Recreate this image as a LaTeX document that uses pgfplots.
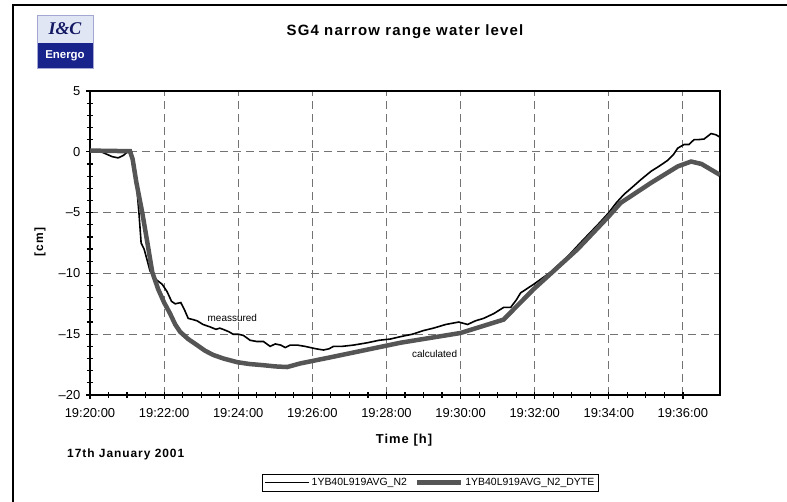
\documentclass[border=0pt]{standalone}
\usepackage{fontspec}
\setmainfont{Liberation Sans}
\newfontfamily\spaced[LetterSpace=8]{Liberation Sans}
\newfontfamily\logoserif{Liberation Serif}
\usepackage{pgfplots}
\pgfplotsset{compat=1.18}

\definecolor{calcgray}{RGB}{85,85,85}
\definecolor{gridgray}{RGB}{115,115,115}
\definecolor{logonavy}{RGB}{25,35,140}
\definecolor{logolight}{RGB}{225,230,245}

\begin{document}
\begin{tikzpicture}
% page = 787x502 px, origin at the lower left corner of the plot box
\useasboundingbox (-90bp,-107bp) rectangle (697bp,395bp);

% open frame round the whole picture
\draw[line width=1.4bp] (-77bp,-107bp) -- (-77bp,390bp) -- (697bp,390bp);

% logo
\fill[logolight] (-53bp,352bp) rectangle (3bp,380bp);
\fill[logonavy] (-53bp,327bp) rectangle (3bp,352bp);
\draw[logonavy!40, line width=0.8bp] (-53bp,327bp) rectangle (3bp,380bp);
\node[text=logonavy!70!black, font=\logoserif\bfseries\itshape\fontsize{18}{18}\selectfont, inner sep=0pt] at (-25bp,366bp) {I\&C};
\node[text=white, font=\bfseries\fontsize{11.5}{12}\selectfont, inner sep=0pt] at (-25bp,339bp) {Energo};

% titles
\node[font=\spaced\bfseries\fontsize{15}{17}\selectfont] at (315bp,363bp) {SG4 narrow range water level};
\node[font=\spaced\bfseries\fontsize{13}{15}\selectfont] at (314bp,-45bp) {Time [h]};
\node[font=\spaced\bfseries\fontsize{12}{14}\selectfont, rotate=90] at (-50bp,153bp) {[cm]};
\node[font=\spaced\bfseries\fontsize{12}{14}\selectfont, anchor=west, inner sep=0pt] at (-23bp,-59bp) {17th January 2001};

\begin{axis}[
    at={(0,0)}, anchor=south west,
    scale only axis,
    width=630bp, height=304bp,
    xmin=0, xmax=17,
    ymin=-20, ymax=5,
    xtick={0,2,4,6,8,10,12,14,16},
    xticklabels={19:20:00,19:22:00,19:24:00,19:26:00,19:28:00,19:30:00,19:32:00,19:34:00,19:36:00},
    ytick={-20,-15,-10,-5,0,5},
    yticklabels={--20,--15,--10,--5,0,5},
    minor x tick num=3,
    minor y tick num=4,
    xtick pos=bottom, ytick pos=left,
    tick align=center,
    major tick length=7bp, minor tick length=6bp,
    every tick/.style={black, line width=1.2bp},
    axis line style={line width=1.8bp},
    grid=major,
    major grid style={gridgray, dash pattern=on 8bp off 5bp, line width=0.9bp},
    tick label style={font=\fontsize{13}{14}\selectfont},
    /pgf/number format/assume math mode=true,
    xticklabel style={inner sep=0pt, anchor=north, yshift=-10bp},
    yticklabel style={inner sep=0pt, anchor=east, xshift=-6bp},
    legend style={at={(axis description cs:0.54,-0.288)}, anchor=center,
        draw=black, line width=0.8bp, inner sep=2bp,
        font=\fontsize{10.5}{12}\selectfont,
        /tikz/every even column/.append style={column sep=6bp}},
    legend columns=2,
    legend cell align=left,
    legend image code/.code={\draw[#1] (0bp,0bp) -- (44bp,0bp);},
    clip=true,
]

% measured
\addplot[black, line width=1.6bp] coordinates {
(0,0.1)(0.27,0.05)(0.45,-0.2)(0.6,-0.4)(0.76,-0.5)(0.9,-0.3)(1.05,0.1)(1.12,0.0)
(1.19,-1.0)(1.25,-2.5)(1.32,-5.0)(1.38,-7.5)(1.46,-8.0)(1.55,-9.0)(1.62,-9.8)
(1.78,-10.5)(1.95,-10.9)(2.08,-11.5)(2.2,-12.3)(2.3,-12.5)(2.45,-12.4)(2.55,-13.0)
(2.65,-13.7)(2.78,-13.8)(2.89,-13.9)(3.05,-14.2)(3.24,-14.4)(3.4,-14.6)(3.5,-14.5)
(3.59,-14.6)(3.75,-14.8)(3.86,-15.0)(4.0,-15.0)(4.14,-15.1)(4.32,-15.5)(4.5,-15.6)
(4.68,-15.6)(4.86,-16.0)(5.0,-15.8)(5.15,-15.9)(5.27,-16.1)(5.4,-15.9)(5.6,-15.9)
(5.8,-16.0)(5.95,-16.1)(6.1,-16.2)(6.3,-16.3)(6.45,-16.2)(6.57,-16.0)(6.8,-16.0)
(7.1,-15.9)(7.49,-15.7)(7.8,-15.5)(8.1,-15.4)(8.38,-15.2)(8.7,-15.0)(9.0,-14.7)
(9.27,-14.5)(9.6,-14.2)(9.95,-14.0)(10.19,-14.2)(10.4,-13.9)(10.62,-13.7)(10.9,-13.3)
(11.16,-12.8)(11.35,-12.8)(11.5,-12.2)(11.62,-11.6)(11.97,-10.9)(12.2,-10.4)
(12.43,-9.9)(12.89,-8.6)(13.32,-7.2)(13.7,-6.0)(14.0,-5.0)(14.2,-4.2)(14.41,-3.5)
(14.6,-3.0)(14.86,-2.3)(15.14,-1.6)(15.35,-1.2)(15.59,-0.7)(15.75,-0.2)(15.86,0.3)
(16.03,0.6)(16.16,0.6)(16.3,1.0)(16.41,1.0)(16.57,1.05)(16.76,1.5)(16.89,1.4)(17.0,1.2)
};
\addlegendentry{1YB40L919AVG\_N2}

% calculated
\addplot[calcgray, line width=4.5bp] coordinates {
(0,0.1)(1.08,0.05)(1.15,-0.6)(1.25,-2.5)(1.41,-5.0)(1.55,-7.5)(1.68,-9.9)
(1.84,-11.3)(2.0,-12.4)(2.16,-13.3)(2.3,-14.2)(2.43,-14.8)(2.65,-15.4)(2.89,-15.9)
(3.1,-16.35)(3.32,-16.7)(3.6,-17.0)(3.97,-17.3)(4.3,-17.45)(4.68,-17.55)(5.0,-17.65)
(5.32,-17.7)(5.68,-17.4)(6.49,-16.9)(8.38,-15.7)(10.0,-14.9)(11.16,-13.8)(11.97,-11.3)
(13.16,-8.0)(14.0,-5.3)(14.32,-4.2)(15.14,-2.55)(15.86,-1.2)(16.22,-0.8)(16.5,-1.0)(17.0,-1.9)
};
\addlegendentry{1YB40L919AVG\_N2\_DYTE}

\node[font=\fontsize{10}{12}\selectfont] at (axis cs:3.84,-13.65) {meassured};
\node[font=\fontsize{10}{12}\selectfont] at (axis cs:9.30,-16.6) {calculated};
\end{axis}
\end{tikzpicture}
\end{document}
